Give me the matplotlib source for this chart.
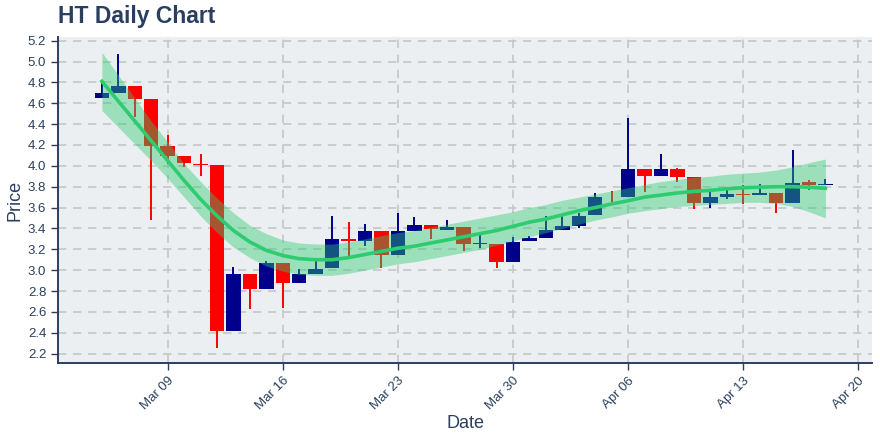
import matplotlib
matplotlib.use("Agg")
import matplotlib.pyplot as plt
import matplotlib.dates as mdates
import pandas as pd

# daily candles, 2020-03-05 .. 2020-04-18
dates = pd.date_range("2020-03-05", "2020-04-18", freq="D")

opens = [4.65, 4.695, 4.77, 4.645, 4.19, 4.09, 4.02, 4.005, 2.42, 2.96,
         2.815, 3.065, 2.875, 2.965, 3.02, 3.30, 3.28, 3.38, 3.145, 3.38,
         3.43, 3.385, 3.41, 3.25, 3.25, 3.075, 3.275, 3.305, 3.385, 3.425,
         3.525, 3.706, 3.706, 3.965, 3.90, 3.965, 3.89, 3.644, 3.70, 3.727,
         3.718, 3.737, 3.645, 3.843, 3.82]
highs = [4.81, 5.07, 4.77, 4.645, 4.30, 4.09, 4.115, 4.005, 3.035, 2.96,
         3.09, 3.065, 3.01, 3.09, 3.515, 3.465, 3.445, 3.38, 3.55, 3.51,
         3.43, 3.478, 3.41, 3.365, 3.25, 3.32, 3.33, 3.52, 3.53, 3.55,
         3.74, 3.758, 4.455, 3.965, 4.11, 3.98, 3.89, 3.76, 3.765, 3.815,
         3.83, 3.737, 4.15, 3.862, 3.87]
lows = [4.65, 4.695, 4.47, 3.48, 4.02, 3.985, 3.90, 2.25, 2.42, 2.63,
        2.815, 2.64, 2.875, 2.965, 3.02, 3.11, 3.23, 3.02, 3.145, 3.38,
        3.30, 3.385, 3.18, 3.21, 3.025, 3.075, 3.275, 3.305, 3.385, 3.40,
        3.525, 3.642, 3.706, 3.75, 3.90, 3.845, 3.59, 3.60, 3.68, 3.63,
        3.718, 3.55, 3.645, 3.766, 3.82]
closes = [4.695, 4.77, 4.645, 4.19, 4.09, 4.025, 4.01, 2.42, 2.96, 2.815,
          3.065, 2.875, 2.965, 3.015, 3.30, 3.28, 3.38, 3.145, 3.38, 3.43,
          3.39, 3.41, 3.25, 3.257, 3.075, 3.27, 3.305, 3.385, 3.425, 3.52,
          3.705, 3.70, 3.965, 3.90, 3.965, 3.895, 3.642, 3.698, 3.727, 3.72,
          3.737, 3.645, 3.84, 3.814, 3.826]

trend = [4.81, 4.62, 4.43, 4.24, 4.05, 3.86, 3.68, 3.52, 3.38, 3.27,
         3.19, 3.14, 3.11, 3.10, 3.10, 3.12, 3.15, 3.18, 3.21, 3.23,
         3.26, 3.29, 3.32, 3.35, 3.38, 3.42, 3.46, 3.49, 3.53, 3.57,
         3.60, 3.635, 3.665, 3.70, 3.72, 3.74, 3.755, 3.765, 3.78, 3.79,
         3.795, 3.80, 3.80, 3.795, 3.785]
upper = [5.09, 4.87, 4.65, 4.43, 4.23, 4.02, 3.85, 3.69, 3.55, 3.43,
         3.35, 3.29, 3.26, 3.25, 3.25, 3.27, 3.30, 3.33, 3.36, 3.38,
         3.41, 3.44, 3.47, 3.50, 3.53, 3.56, 3.60, 3.63, 3.67, 3.70,
         3.73, 3.76, 3.79, 3.82, 3.85, 3.87, 3.89, 3.90, 3.92, 3.93,
         3.94, 3.96, 3.99, 4.03, 4.065]
lower = [4.53, 4.37, 4.21, 4.05, 3.88, 3.70, 3.52, 3.36, 3.22, 3.12,
         3.04, 2.99, 2.96, 2.95, 2.95, 2.97, 3.00, 3.03, 3.06, 3.08,
         3.11, 3.14, 3.17, 3.20, 3.24, 3.28, 3.32, 3.36, 3.40, 3.44,
         3.48, 3.51, 3.545, 3.57, 3.59, 3.61, 3.62, 3.63, 3.64, 3.65,
         3.65, 3.64, 3.61, 3.56, 3.50]

y_ticks = [2.2, 2.4, 2.6, 2.8, 3.0, 3.2, 3.4, 3.6, 3.8, 4.0, 4.2, 4.4, 4.6, 4.8, 5.0, 5.2]
x_ticks = ["2020-03-09", "2020-03-16", "2020-03-23", "2020-03-30",
           "2020-04-06", "2020-04-13", "2020-04-20"]

TEXT = "#2a3f5f"
UP = "#00008b"
DOWN = "#ff0000"
GREEN = "#2ecc71"

plt.rcParams["font.family"] = ["Liberation Sans", "DejaVu Sans"]

fig = plt.figure(figsize=(8.8, 4.4), dpi=100)
ax = fig.add_axes([58 / 880, 1 - 363 / 440, (872 - 58) / 880, (363 - 37) / 440])
ax.set_facecolor("#eceff1")

x = mdates.date2num(dates)
for xi, o, h, l, c in zip(x, opens, highs, lows, closes):
    col = UP if c >= o else DOWN
    ax.vlines(xi, l, h, color=col, lw=1.4, zorder=2)
    body = max(abs(c - o), 0.006)
    ax.bar(xi, body, bottom=min(o, c), width=0.88, color=col, lw=0, zorder=2)

ax.fill_between(x, lower, upper, color=GREEN, alpha=0.42, lw=0, zorder=3)
ax.plot(x, trend, color=GREEN, lw=2.6, zorder=4)

ax.set_xlim(mdates.date2num(pd.Timestamp("2020-03-02 08:00")),
            mdates.date2num(pd.Timestamp("2020-04-20 20:00")))
ax.set_ylim(2.11, 5.235)
ax.set_yticks(y_ticks)
ax.set_yticklabels([f"{v:.1f}" for v in y_ticks])
ax.set_xticks(mdates.date2num(pd.to_datetime(x_ticks)))
ax.xaxis.set_major_formatter(mdates.DateFormatter("%b %d"))

ax.grid(True, color="#c4c6c8", ls=(0, (5, 4)), lw=1.2)
ax.set_axisbelow(True)
for s in ["top", "right"]:
    ax.spines[s].set_visible(False)
for s in ["left", "bottom"]:
    ax.spines[s].set_color(TEXT)
    ax.spines[s].set_linewidth(1.4)

ax.tick_params(colors=TEXT, labelsize=9.5, length=5, width=1)
plt.setp(ax.get_xticklabels(), rotation=45, ha="right", rotation_mode="anchor")

ax.set_xlabel("Date", color=TEXT, fontsize=13, labelpad=2)
ax.set_ylabel("Price", color=TEXT, fontsize=13, labelpad=3)
fig.text(58 / 880, 1 - 16 / 440, "HT Daily Chart", color=TEXT, fontsize=16.5,
         fontweight="bold", va="center", ha="left")

fig.savefig("out.png", dpi=100)
